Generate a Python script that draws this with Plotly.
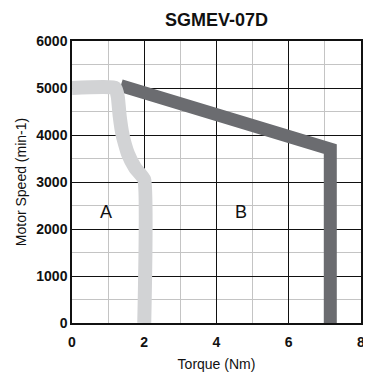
import plotly.graph_objects as go

# Curve A (light gray)
a_torque = [0, 1.2, 1.27, 1.32, 1.4, 1.55, 1.75, 2.0, 2.0]
a_speed = [5000, 5000, 4800, 4400, 4000, 3600, 3300, 3050, 0]

# Curve B (dark gray)
b_torque = [1.35, 7.15, 7.15]
b_speed = [5050, 3700, 0]

x_ticks = [0, 2, 4, 6, 8]
y_ticks = [0, 1000, 2000, 3000, 4000, 5000, 6000]

FONT = "Liberation Sans, Arial, Helvetica, sans-serif"

W, H = 363, 364

fig = go.Figure()
fig.add_trace(go.Scatter(x=b_torque, y=b_speed, mode="lines",
                         line=dict(color="#6b6c70", width=13), hoverinfo="skip"))
fig.add_trace(go.Scatter(x=a_torque, y=a_speed, mode="lines",
                         line=dict(color="#d2d3d5", width=14, shape="spline", smoothing=0.4),
                         hoverinfo="skip"))

fig.add_annotation(x=0.93, y=2360, text="A", showarrow=False,
                   font=dict(family=FONT, size=18, color="#111"))
fig.add_annotation(x=4.67, y=2360, text="B", showarrow=False,
                   font=dict(family=FONT, size=18, color="#111"))

fig.update_layout(
    width=W, height=H,
    margin=dict(l=64, r=10, t=33, b=49, autoexpand=False),
    paper_bgcolor="white", plot_bgcolor="white",
    showlegend=False,
    title=dict(text="<b>SGMEV-07D</b>", x=(64 + 353) / 2 / W, xanchor="center",
               y=1 - 12 / H, yanchor="middle", automargin=False,
               font=dict(family=FONT, size=18, color="#111")),
    xaxis=dict(range=[0, 8], tickvals=x_ticks, ticktext=[f"<b>{v}</b>" for v in x_ticks],
               showgrid=True, gridcolor="#111", gridwidth=1,
               minor=dict(dtick=1, showgrid=True, gridcolor="#c4c4c4", gridwidth=1),
               showline=True, linecolor="#111", linewidth=1.5, mirror=True,
               ticks="", zeroline=False, automargin=False, ticklabelstandoff=5,
               tickfont=dict(family=FONT, size=14, color="#111"),
               title=dict(text="Torque (Nm)", standoff=12,
                          font=dict(family=FONT, size=14, color="#111"))),
    yaxis=dict(range=[0, 6000], tickvals=y_ticks, ticktext=[f"<b>{v}</b>" for v in y_ticks],
               showgrid=True, gridcolor="#111", gridwidth=1,
               minor=dict(dtick=500, showgrid=True, gridcolor="#c4c4c4", gridwidth=1),
               showline=True, linecolor="#111", linewidth=1.5, mirror=True,
               ticks="", zeroline=False, automargin=False,
               tickfont=dict(family=FONT, size=14, color="#111"),
               title=dict(text="Motor Speed (min-1)", standoff=6,
                          font=dict(family=FONT, size=14, color="#111"))),
)

fig.write_html("out.html")
